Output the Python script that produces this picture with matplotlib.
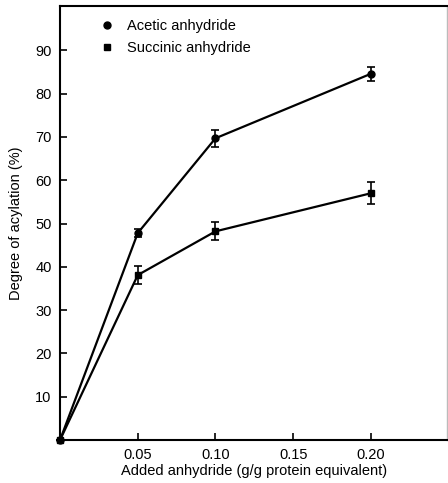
import numpy as np
import matplotlib.pyplot as plt
from matplotlib.lines import Line2D

plt.rcParams['font.family'] = ['Liberation Sans', 'DejaVu Sans']

# anhydride added (g/g protein equivalent)
dose = [0.0, 0.05, 0.10, 0.20]

# degree of acylation (%) with error estimates
acetic = [0.0, 47.8, 69.7, 84.6]
acetic_err = [0.0, 0.9, 2.0, 1.6]
succinic = [0.0, 38.1, 48.2, 57.0]
succinic_err = [0.0, 2.0, 2.1, 2.5]

x_ticks = [0.05, 0.10, 0.15, 0.20]
x_labels = ["0.05", "0.10", "0.15", "0.20"]
y_ticks = [10, 20, 30, 40, 50, 60, 70, 80, 90]

fig = plt.figure(figsize=(4.48, 4.83), dpi=100)
ax = fig.add_axes([0.134, 0.089, 0.864, 0.899])

ax.errorbar(dose, acetic, yerr=acetic_err, color='black', lw=1.6,
            marker='o', markersize=5, capsize=3, elinewidth=1.2, capthick=1.2,
            clip_on=False, zorder=3)
ax.errorbar(dose, succinic, yerr=succinic_err, color='black', lw=1.6,
            marker='s', markersize=4.5, capsize=3, elinewidth=1.2, capthick=1.2,
            clip_on=False, zorder=3)

ax.set_xlim(0, 0.249)
ax.set_ylim(0, 100.3)
ax.set_xticks(x_ticks)
ax.set_xticklabels(x_labels)
ax.set_yticks(y_ticks)
ax.tick_params(direction='in', length=5, width=1.2, labelsize=10.5, pad=6)

for side in ['left', 'bottom', 'top']:
    ax.spines[side].set_linewidth(1.5)
ax.spines['right'].set_linewidth(1.0)
ax.spines['right'].set_color('#bbbbbb')

ax.set_xlabel('Added anhydride (g/g protein equivalent)', fontsize=10.5, labelpad=1)
ax.set_ylabel('Degree of acylation (%)', fontsize=10.5, labelpad=9)

handles = [
    Line2D([], [], color='black', marker='o', linestyle='none', markersize=5),
    Line2D([], [], color='black', marker='s', linestyle='none', markersize=4),
]
ax.legend(handles, ['Acetic anhydride', 'Succinic anhydride'], loc='upper left',
          bbox_to_anchor=(0.065, 1.0), frameon=False, fontsize=10.5,
          handletextpad=0.8, labelspacing=0.55, handlelength=1.2)

fig.savefig('out.png', dpi=100)
